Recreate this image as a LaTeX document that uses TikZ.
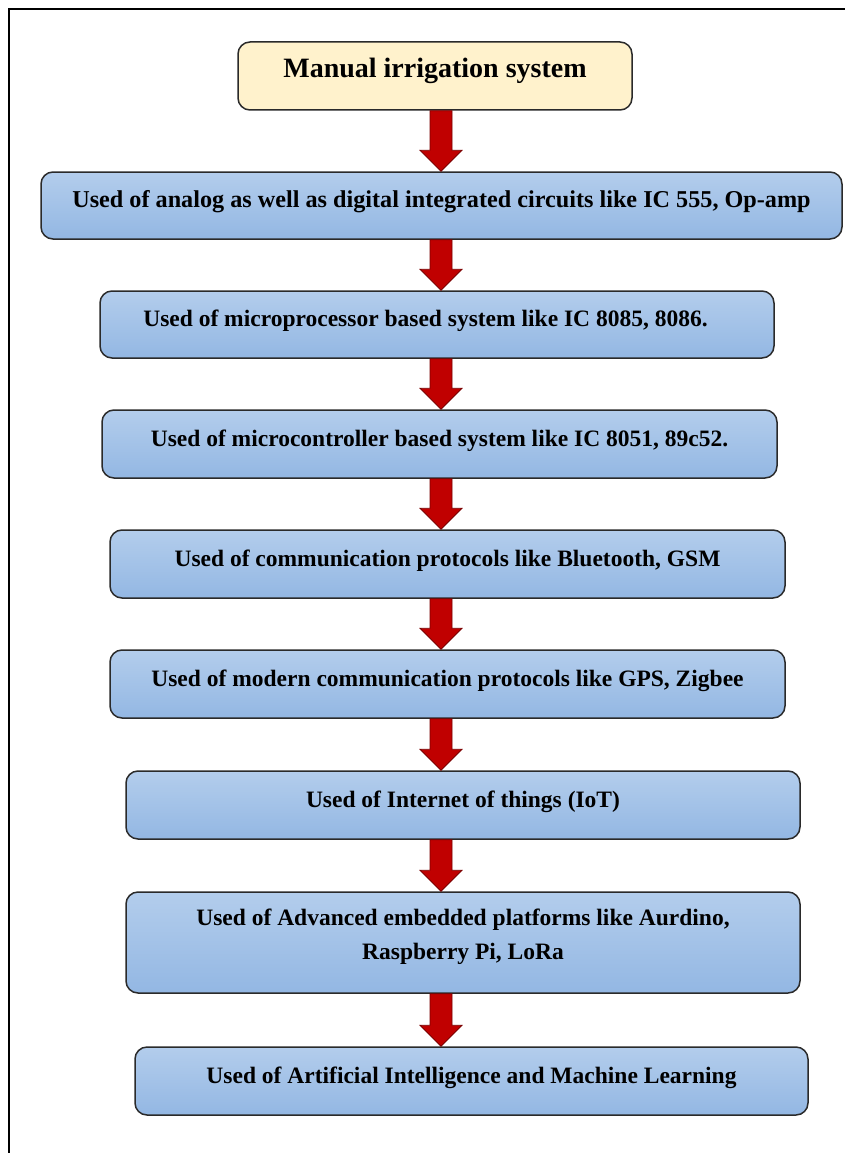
\documentclass[tikz,border=0pt]{standalone}
\usepackage{fontspec}
\setmainfont{Liberation Serif}
\usetikzlibrary{calc}
\definecolor{titlefill}{HTML}{FFF2CC}
\definecolor{bluetop}{HTML}{B3CDEC}
\definecolor{bluebot}{HTML}{93B7E3}
\definecolor{arrred}{HTML}{C00000}
\definecolor{arrdark}{HTML}{7A0000}
\definecolor{boxline}{HTML}{2A2A2A}
\tikzset{
  basebox/.style={draw=boxline, line width=1.5pt, rounded corners=12pt, align=center,
    text height=12pt, text depth=8pt, inner sep=0pt},
  titlebox/.style={basebox, fill=titlefill, font=\bfseries\fontsize{28}{34}\selectfont},
  stepbox/.style={basebox, top color=bluetop, bottom color=bluebot, font=\bfseries\fontsize{23.5}{34}\selectfont},
  arrowfill/.style={fill=arrred, draw=arrdark, line width=0.8pt, line join=miter},
}
\newcommand{\flowarrow}[2]{%
  \draw[arrowfill] let \p1=(#1.south), \p2=(#2.north) in
    (430pt,\y1) -- (430pt,\y2+21pt) -- (420pt,\y2+21pt) -- (441pt,\y2)
    -- (462pt,\y2+21pt) -- (452pt,\y2+21pt) -- (452pt,\y1) -- cycle;}
\begin{document}
\begin{tikzpicture}[x=1pt,y=-1pt]
\useasboundingbox (0,0) rectangle (845,1153);
\fill[white] (0,0) rectangle (845,1153);
\draw[line width=2.5pt] (9,1153) -- (9,9) -- (845,9);

\node[titlebox, minimum width=394pt, minimum height=68pt] (n0) at (435,76) {Manual irrigation system};
\node[stepbox, minimum width=801pt, minimum height=67pt, font=\bfseries\fontsize{24.2}{34}\selectfont] (n1) at (441.5,205.5) {Used of analog as well as digital integrated circuits like IC 555, Op-amp};
\node[stepbox, minimum width=674pt, minimum height=67pt] (n2) at (437,324.5) {Used of microprocessor based system like IC 8085, 8086.\hspace*{23pt}};
\node[stepbox, minimum width=675pt, minimum height=68pt] (n3) at (439.5,444) {Used of microcontroller based system like IC 8051, 89c52.};
\node[stepbox, minimum width=675pt, minimum height=68pt] (n4) at (447.5,564) {Used of communication protocols like Bluetooth, GSM};
\node[stepbox, minimum width=675pt, minimum height=68pt] (n5) at (447.5,684) {Used of modern communication protocols like GPS, Zigbee};
\node[stepbox, minimum width=674pt, minimum height=68pt] (n6) at (463,805) {Used of Internet of things (IoT)};
\node[stepbox, minimum width=674pt, minimum height=101pt, text height=42pt] (n7) at (463,942.5) {Used of Advanced embedded platforms like Aurdino,\\Raspberry Pi, LoRa};
\node[stepbox, minimum width=673pt, minimum height=68pt] (n8) at (471.5,1081) {Used of Artificial Intelligence and Machine Learning};

\flowarrow{n0}{n1}
\flowarrow{n1}{n2}
\flowarrow{n2}{n3}
\flowarrow{n3}{n4}
\flowarrow{n4}{n5}
\flowarrow{n5}{n6}
\flowarrow{n6}{n7}
\flowarrow{n7}{n8}
\end{tikzpicture}
\end{document}
